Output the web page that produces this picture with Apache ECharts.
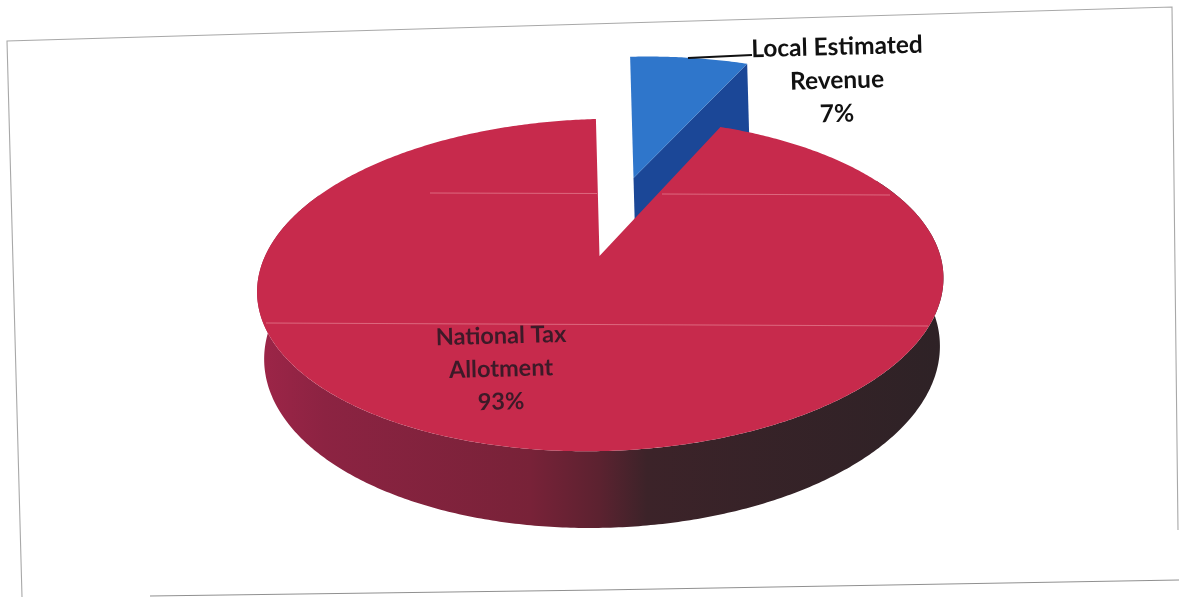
<!DOCTYPE html>
<html>
<head>
<meta charset="utf-8">
<style>html,body{margin:0;padding:0;background:#fff}#chart{width:1179px;height:597px}</style>
<script src="https://cdn.jsdelivr.net/npm/echarts@6/dist/echarts.min.js"></script>
</head>
<body>
<div id="chart"></div>
<script>
// Revenue share, clockwise from twelve o'clock
const categories = ['Local Estimated Revenue', 'National Tax Allotment'];
const seriesValues = [7, 93];
const labelLines = [['Local Estimated', 'Revenue'], ['National Tax', 'Allotment']];

// Tilted-disc projection
const view = { cx: 599.5, cy: 256, R: 338, S: 161, k: 0.1747, thick: 66.5, lowRim: 0.985, tilt: 1.5 * Math.PI / 180 };
const explode = [
  { dx: 34, dy: -78, sx: 0.94, sy: 0.885, thick: 90 },
  { dx: 0, dy: 0, sx: 1, sy: 1, thick: view.thick }
];
const labelBoxes = [
  { x: 837, y: 47, gap: 33.5, size: 24.5, color: '#111', weight: 'bold' },
  { x: 501, y: 336, gap: 33, size: 23.5, color: '#3c1a28', weight: 'bold' }
];
const topColors = ['#2f76cb', '#c72a4c'];
const cutColor = '#1b4797';

function project(angle, radius, drop, e) {
  const u = Math.sin(angle) * radius, v = -Math.cos(angle) * radius;
  const w = 1 - view.k * v;
  const dx = view.R * u / w, dy = (view.S * v + drop) / w;
  const c = Math.cos(view.tilt), s = Math.sin(view.tilt);
  return [
    view.cx + e.dx + e.sx * (dx * c + dy * s),
    view.cy + e.dy + e.sy * (dy * c - dx * s)
  ];
}

function rim(from, to, radius, drop, e) {
  const pts = [], n = Math.max(2, Math.round(Math.abs(to - from) / 0.01));
  for (let i = 0; i <= n; i++) pts.push(project(from + (to - from) * i / n, radius, drop, e));
  return pts;
}

const total = seriesValues.reduce((a, b) => a + b, 0);

function renderSlice(params, api) {
  const i = params.dataIndex, value = api.value(0);
  const before = seriesValues.slice(0, i).reduce((a, b) => a + b, 0);
  const a0 = before / total * 2 * Math.PI, a1 = (before + value) / total * 2 * Math.PI;
  const e = explode[i];
  const apex = project(0, 0, 0, e);
  const children = [];

  if (i === 0) {
    // Exposed cut face of the pulled-out wedge
    const end = project(a1, 1, 0, e), endLow = project(a1, 1, e.thick, e), apexLow = project(0, 0, e.thick, e);
    children.push({ type: 'polygon', shape: { points: [apex, end, endLow, apexLow] }, style: { fill: cutColor } });
  } else {
    // Front wall of the disc, shaded left to right
    const from = Math.max(a0, Math.PI * 0.35), to = Math.min(a1, Math.PI * 1.65);
    const wall = rim(from, to, 1, 0, e).concat(rim(to, from, view.lowRim, e.thick, e));
    children.push({
      type: 'polygon', shape: { points: wall },
      style: {
        fill: new echarts.graphic.LinearGradient(256, 0, 942, 0, [
          { offset: 0, color: '#9e2548' },
          { offset: 0.1, color: '#8c2342' },
          { offset: 0.4, color: '#782238' },
          { offset: 0.5, color: '#5c2230' },
          { offset: 0.57, color: '#3c2329' },
          { offset: 1, color: '#2e2226' }
        ], true)
      }
    });
  }

  children.push({
    type: 'polygon',
    shape: { points: [apex].concat(rim(a0, a1, 1, 0, e)) },
    style: { fill: topColors[i] }
  });

  // Name lines plus the share
  const box = labelBoxes[i];
  labelLines[i].concat([value + '%']).forEach((line, n) => {
    children.push({
      type: 'text', x: box.x, y: box.y + n * box.gap, rotation: view.tilt,
      style: {
        text: line, align: 'center', verticalAlign: 'middle', fill: box.color,
        font: box.weight + ' ' + box.size + 'px Lato, sans-serif'
      }
    });
  });
  return { type: 'group', children };
}

const chart = echarts.init(document.getElementById('chart'), null, { renderer: 'canvas' });
const streak = { stroke: '#ee9aa8', lineWidth: 1, opacity: 0.55 };
chart.setOption({
  backgroundColor: '#ffffff',
  animation: false,
  series: [{
    type: 'custom',
    coordinateSystem: 'none',
    silent: true,
    data: seriesValues.map((v, i) => ({ name: categories[i], value: [v] })),
    renderItem: renderSlice,
    z: 2
  }],
  graphic: [
    // Outer chart frame
    { type: 'polyline', z: 1, silent: true,
      shape: { points: [[1178, 530], [1172, 7], [7, 41], [22, 597]] },
      style: { stroke: '#a8a8a8', lineWidth: 1.1, fill: null } },
    { type: 'polyline', z: 1, silent: true,
      shape: { points: [[150, 596], [600, 590], [1179, 580]] },
      style: { stroke: '#909090', lineWidth: 1.2, fill: null } },
    // Leader line to the wedge label
    { type: 'polyline', z: 5, silent: true,
      shape: { points: [[688, 58], [752, 55]] },
      style: { stroke: '#111', lineWidth: 2, fill: null } },
    // Pale streaks across the red face
    { type: 'line', z: 5, silent: true, shape: { x1: 430, y1: 193, x2: 597, y2: 193.5 }, style: streak },
    { type: 'line', z: 5, silent: true, shape: { x1: 662, y1: 194, x2: 890, y2: 195 }, style: streak },
    { type: 'line', z: 5, silent: true, shape: { x1: 266, y1: 323, x2: 928, y2: 326 }, style: streak }
  ]
});
</script>
</body>
</html>
